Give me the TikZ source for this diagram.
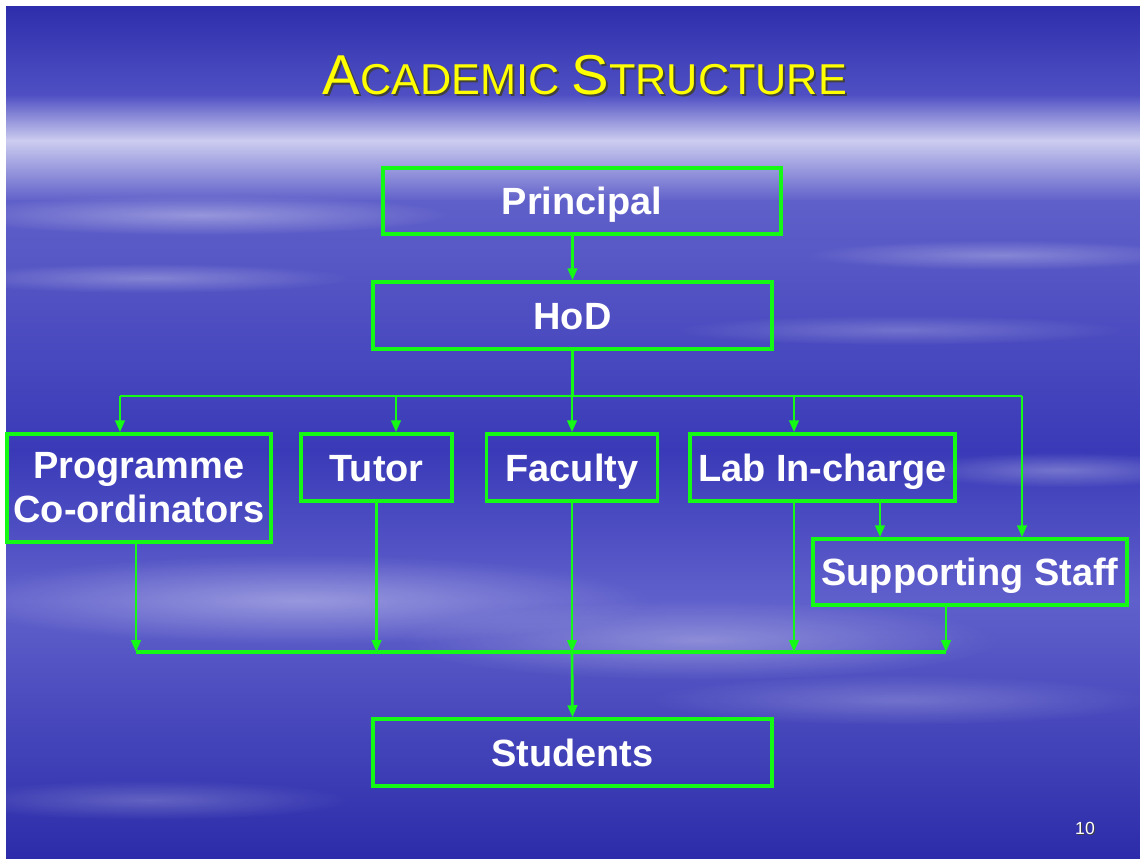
\documentclass[tikz,border=0pt]{standalone}
\usepackage{fontspec}
\setmainfont{Liberation Sans}
\usetikzlibrary{arrows.meta,fadings}

\definecolor{skyA}{RGB}{46,46,172}
\definecolor{skyB}{RGB}{80,80,196}
\definecolor{skyC}{RGB}{205,205,240}
\definecolor{skyD}{RGB}{96,96,202}
\definecolor{skyE}{RGB}{58,58,184}
\definecolor{skyF}{RGB}{96,96,204}
\definecolor{skyG}{RGB}{44,44,170}
\definecolor{linegreen}{RGB}{20,250,20}
\definecolor{titleyellow}{RGB}{255,255,0}

\tikzfading[name=softfade, inner color=transparent!30, outer color=transparent!100]

\tikzset{
  unit/.style={draw=linegreen, line width=2pt, text=white, inner sep=0pt,
    font=\bfseries\fontsize{21.6}{25}\selectfont, align=center},
  onerow/.style={unit, text height=15.5pt, text depth=0pt},
  link/.style={draw=linegreen, line width=1.6pt},
  bus/.style={draw=linegreen, line width=2.4pt},
  arr/.style={draw=linegreen, line width=1.5pt, -{Triangle[length=0.24cm,width=0.19cm]}},
  streak/.style={white, path fading=softfade}
}

\begin{document}
\begin{tikzpicture}[x=0.02cm,y=-0.02cm]
\useasboundingbox (0,0) rectangle (1140,859);
% sky
\fill[white] (0,0) rectangle (1140,859);
\shade[top color=skyA, bottom color=skyB] (6,6) rectangle (1140,96);
\shade[top color=skyB, bottom color=skyC] (6,95) rectangle (1140,141);
\shade[top color=skyC, bottom color=skyD] (6,140) rectangle (1140,201);
\shade[top color=skyD, bottom color=skyE] (6,200) rectangle (1140,451);
\shade[top color=skyE, bottom color=skyF] (6,450) rectangle (1140,601);
\shade[top color=skyF, bottom color=skyG] (6,600) rectangle (1140,859);
% clouds
\fill[streak, opacity=0.5] (200,215) ellipse [x radius=5cm, y radius=0.4cm];
\fill[streak, opacity=0.4] (150,278) ellipse [x radius=4cm, y radius=0.3cm];
\fill[streak, opacity=0.4] (1000,255) ellipse [x radius=4cm, y radius=0.3cm];
\fill[streak, opacity=0.3] (900,330) ellipse [x radius=4.5cm, y radius=0.3cm];
\fill[streak, opacity=0.5] (300,600) ellipse [x radius=7cm, y radius=0.9cm];
\fill[streak, opacity=0.45] (700,640) ellipse [x radius=6cm, y radius=0.8cm];
\fill[streak, opacity=0.4] (1060,470) ellipse [x radius=3cm, y radius=0.35cm];
\fill[streak, opacity=0.3] (900,700) ellipse [x radius=5cm, y radius=0.5cm];
\fill[streak, opacity=0.3] (150,800) ellipse [x radius=4cm, y radius=0.4cm];

% title
\node[anchor=base, text=black!75] (titleshadow) at (587,96)
  {{\fontsize{32}{36}\selectfont A}{\fontsize{24.6}{30}\selectfont CADEMIC }{\fontsize{32}{36}\selectfont S}{\fontsize{24.6}{30}\selectfont TRUCTURE}};
\node[anchor=base, text=titleyellow] (title) at (585,94)
  {{\fontsize{32}{36}\selectfont A}{\fontsize{24.6}{30}\selectfont CADEMIC }{\fontsize{32}{36}\selectfont S}{\fontsize{24.6}{30}\selectfont TRUCTURE}};

% boxes
\node[onerow, minimum width=7.96cm, minimum height=1.32cm] (principal) at (582,201) {Principal};
\node[onerow, minimum width=7.98cm, minimum height=1.34cm] (hod) at (572.5,315.5) {HoD};
\node[unit, minimum width=5.28cm, minimum height=2.16cm] (prog) at (139,488) {Programme\\Co-ordinators};
\node[onerow, minimum width=3.02cm, minimum height=1.34cm] (tutor) at (376.5,467.5) {Tutor};
\node[onerow, minimum width=3.42cm, minimum height=1.34cm] (faculty) at (572,467.5) {Faculty};
\node[onerow, minimum width=5.3cm, minimum height=1.34cm] (lab) at (822.5,467.5) {Lab In-charge};
\node[onerow, minimum width=6.28cm, minimum height=1.32cm] (support) at (970,572) {Supporting Staff};
\node[onerow, minimum width=7.98cm, minimum height=1.34cm] (students) at (572.5,752.5) {Students};

% bus points
\coordinate (busL) at (120,396);
\coordinate (busR) at (1022,396);
\coordinate (dT) at (396,396);
\coordinate (dL) at (794,396);
\coordinate (ls) at (880,520);
\coordinate (lowL) at (136,652);
\coordinate (lowR) at (946,652);

% connectors
\draw[arr] (principal.south -| hod.north) -- (hod.north);
\draw[link] (hod.south) -- (hod.south |- busL);
\draw[link] (busL) -- (busR);
\draw[arr] (busL) -- (busL |- prog.north);
\draw[arr] (dT) -- (dT |- tutor.north);
\draw[arr] (faculty.north |- busL) -- (faculty.north);
\draw[arr] (dL) -- (dL |- lab.north);
\draw[arr] (busR) -- (busR |- support.north);
\draw[arr] (ls |- lab.south) -- (ls |- support.north);
\draw[bus] (lowL) -- (lowR);
\draw[arr] (lowL |- prog.south) -- (lowL);
\draw[arr] (tutor.south) -- (tutor.south |- lowL);
\draw[arr] (faculty.south) -- (faculty.south |- lowL);
\draw[arr] (dL |- lab.south) -- (dL |- lowL);
\draw[arr] (lowR |- support.south) -- (lowR);
\draw[arr] (faculty.south |- lowL) -- (students.north);

% page number
\node[text=black!75, font=\fontsize{10}{12}\selectfont] (pageshadow) at (1086,829) {10};
\node[text=white, font=\fontsize{10}{12}\selectfont] (page) at (1085,828) {10};
\end{tikzpicture}
\end{document}
